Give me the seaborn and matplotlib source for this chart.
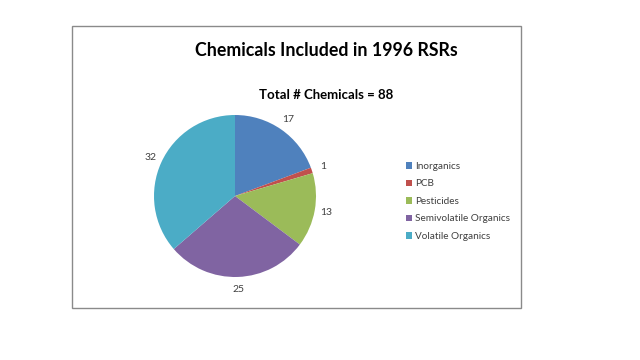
import matplotlib
matplotlib.use("Agg")
import matplotlib.pyplot as plt
import seaborn as sns
from matplotlib.patches import Rectangle

categories = ["Inorganics", "PCB", "Pesticides", "Semivolatile Organics", "Volatile Organics"]
counts = [17, 1, 13, 25, 32]
title = "Chemicals Included in 1996 RSRs"
subtitle = "Total # Chemicals = 88"

sns.set_theme(style="white")
plt.rcParams["font.family"] = ["Lato", "DejaVu Sans"]
colors = sns.color_palette(["#4F81BD", "#C0504D", "#9BBB59", "#8064A2", "#4BACC6"])

W, H = 640, 360
fig = plt.figure(figsize=(6.4, 3.6), dpi=100)
fig.patch.set_facecolor("white")

# chart border
fig.patches.append(Rectangle((72 / W, 1 - 308 / H), (521 - 72) / W, (308 - 26) / H,
                             transform=fig.transFigure, fill=False,
                             edgecolor="#8a8a8a", linewidth=1.0))

cx, cy, r = 235, 196, 81
ax = fig.add_axes([(cx - r) / W, (H - cy - r) / H, 2 * r / W, 2 * r / H])
wedges, texts = ax.pie(counts, labels=[str(v) for v in counts], colors=colors,
                       startangle=90, counterclock=False, labeldistance=1.15,
                       textprops={"ha": "center", "va": "center",
                                  "fontsize": 7.5, "color": "#404040"},
                       wedgeprops={"linewidth": 0})
ax.set_xlim(-1, 1)
ax.set_ylim(-1, 1)
ax.set_aspect("equal")
ax.axis("off")

fig.text(326 / W, 1 - 51 / H, title, ha="center", va="center",
         fontsize=12.8, fontweight="bold", color="black")
fig.text(326 / W, 1 - 95 / H, subtitle, ha="center", va="center",
         fontsize=9.5, fontweight="bold", color="black")

leg = fig.legend(wedges, categories, loc="upper left",
                 bbox_to_anchor=(406 / W, 1 - 162 / H), frameon=False,
                 fontsize=7.2, handlelength=0.6, handleheight=0.6,
                 handletextpad=0.3, labelspacing=0.85, borderaxespad=0,
                 borderpad=0)
for t in leg.get_texts():
    t.set_color("#404040")

fig.savefig("out.png", dpi=100, facecolor="white")
